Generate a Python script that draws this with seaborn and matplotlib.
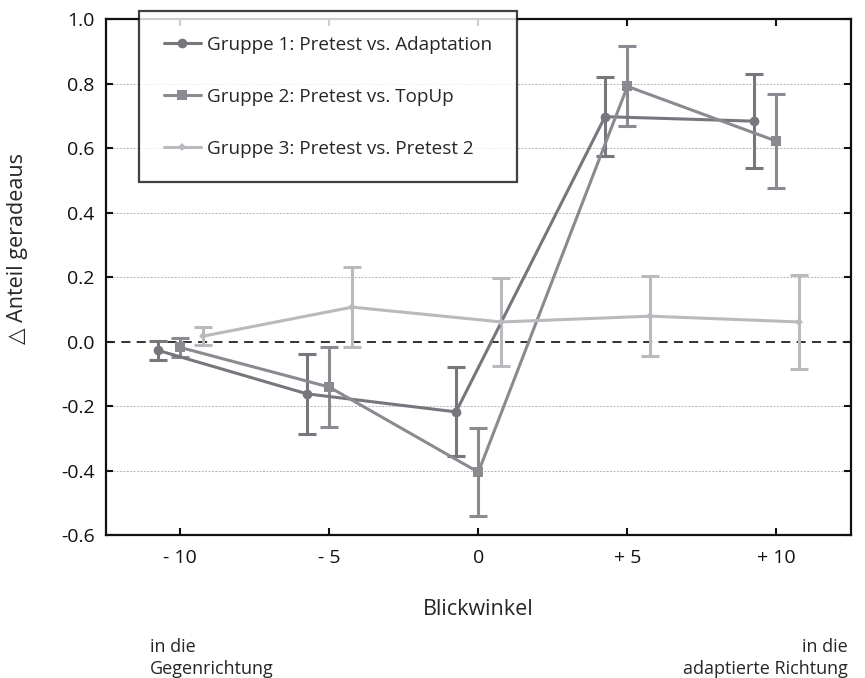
import numpy as np
import pandas as pd
import matplotlib
matplotlib.use("Agg")
import matplotlib.pyplot as plt
import seaborn as sns

# ---- data ----
angles = [-10, -5, 0, 5, 10]
tick_labels = ["- 10", "- 5", "0", "+ 5", "+ 10"]
groups = ["Gruppe 1: Pretest vs. Adaptation",
          "Gruppe 2: Pretest vs. TopUp",
          "Gruppe 3: Pretest vs. Pretest 2"]
g1_mean = [-0.027, -0.162, -0.218, 0.698, 0.684]
g1_err = [0.030, 0.125, 0.138, 0.123, 0.146]
g2_mean = [-0.018, -0.141, -0.405, 0.792, 0.622]
g2_err = [0.029, 0.124, 0.137, 0.124, 0.145]
g3_mean = [0.017, 0.107, 0.061, 0.079, 0.061]
g3_err = [0.029, 0.125, 0.137, 0.125, 0.146]

means = [g1_mean, g2_mean, g3_mean]
errs = [g1_err, g2_err, g3_err]

# ---- style ----
sns.set_theme(style="white")
plt.rcParams['font.family'] = ['Open Sans', 'DejaVu Sans']

colors = ["#76777d", "#8a8b90", "#b9babd"]
markers = ["o", "s", "D"]
msizes = [7, 6.5, 4.5]
offsets = [-0.75, 0.0, 0.77]

rows = []
for g, m, e, off in zip(groups, means, errs, offsets):
    for a, v, ee in zip(angles, m, e):
        rows.append({"group": g, "pos": a + off, "value": v, "err": ee})
df = pd.DataFrame(rows)

fig = plt.figure(figsize=(8.65, 6.78), dpi=100)
ax = fig.add_axes([0.1222, 0.2109, 0.8616, 0.7606])

# grid lines
for yv in [-0.4, -0.2, 0.2, 0.4, 0.6, 0.8]:
    ax.axhline(yv, color="#b5b5b5", lw=0.7, ls=(0, (2, 1.5)), zorder=0)
ax.axhline(0, color="#222222", lw=1.3, ls=(0, (5, 3.5)), zorder=1)

for i, g in enumerate(groups):
    sub = df[df["group"] == g]
    ax.errorbar(sub["pos"], sub["value"], yerr=sub["err"], fmt="none",
                ecolor=colors[i], elinewidth=2.2, capsize=6.5, capthick=2.2,
                zorder=2 + i)

sns.lineplot(data=df, x="pos", y="value", hue="group", style="group",
             palette=dict(zip(groups, colors)),
             markers=dict(zip(groups, markers)), dashes=False,
             linewidth=2.2, markeredgewidth=0, ax=ax, sort=False,
             estimator=None, zorder=5)
for ln in ax.get_lines():
    c = matplotlib.colors.to_hex(ln.get_color())
    for col, ms in zip(colors, msizes):
        if c == col and ln.get_marker() not in (None, "None", ""):
            ln.set_markersize(ms)

ax.set_xlim(-12.5, 12.5)
ax.set_ylim(-0.6, 1.0)
ax.set_xticks(angles)
ax.set_xticklabels(tick_labels)
yt = np.round(np.arange(-0.6, 1.01, 0.2), 1)
ax.set_yticks(yt)
ax.set_yticklabels([f"{v:.1f}" for v in yt])
ax.tick_params(direction="in", length=5, width=1.5, labelsize=14,
               top=True, right=True, bottom=True, left=True, pad=10,
               colors="#111111")
ax.tick_params(axis="y", pad=8)
for sp in ax.spines.values():
    sp.set_linewidth(1.6)
    sp.set_color("#111111")
    sp.set_visible(True)

ax.set_xlabel("Blickwinkel", fontsize=15.5, labelpad=23)
ax.set_ylabel("\u25b3 Anteil geradeaus", fontsize=15.5)
ax.yaxis.set_label_coords(-0.104, 0.555)

handles, labels = ax.get_legend_handles_labels()
leg = ax.legend(handles, labels, loc="upper left",
                bbox_to_anchor=(139 / 865, 1 - 11 / 678),
                bbox_transform=fig.transFigure,
                fontsize=13.6, frameon=True, fancybox=False, shadow=False,
                borderpad=1.3, labelspacing=1.8, handlelength=2.0,
                handletextpad=0.3, borderaxespad=0)
leg.get_frame().set_edgecolor("#111111")
leg.get_frame().set_linewidth(1.6)
leg.set_zorder(10)
for lh, ms in zip(leg.get_lines(), msizes):
    lh.set_markersize(ms)
    lh.set_linewidth(2.2)

fig.text(150 / 865, 1 - 658 / 678, "in die\nGegenrichtung", ha="left",
         va="center", fontsize=13, linespacing=1.3)
fig.text(848 / 865, 1 - 658 / 678, "in die\nadaptierte Richtung", ha="right",
         va="center", fontsize=13, linespacing=1.3, multialignment="right")

fig.savefig("out.png", dpi=100)
